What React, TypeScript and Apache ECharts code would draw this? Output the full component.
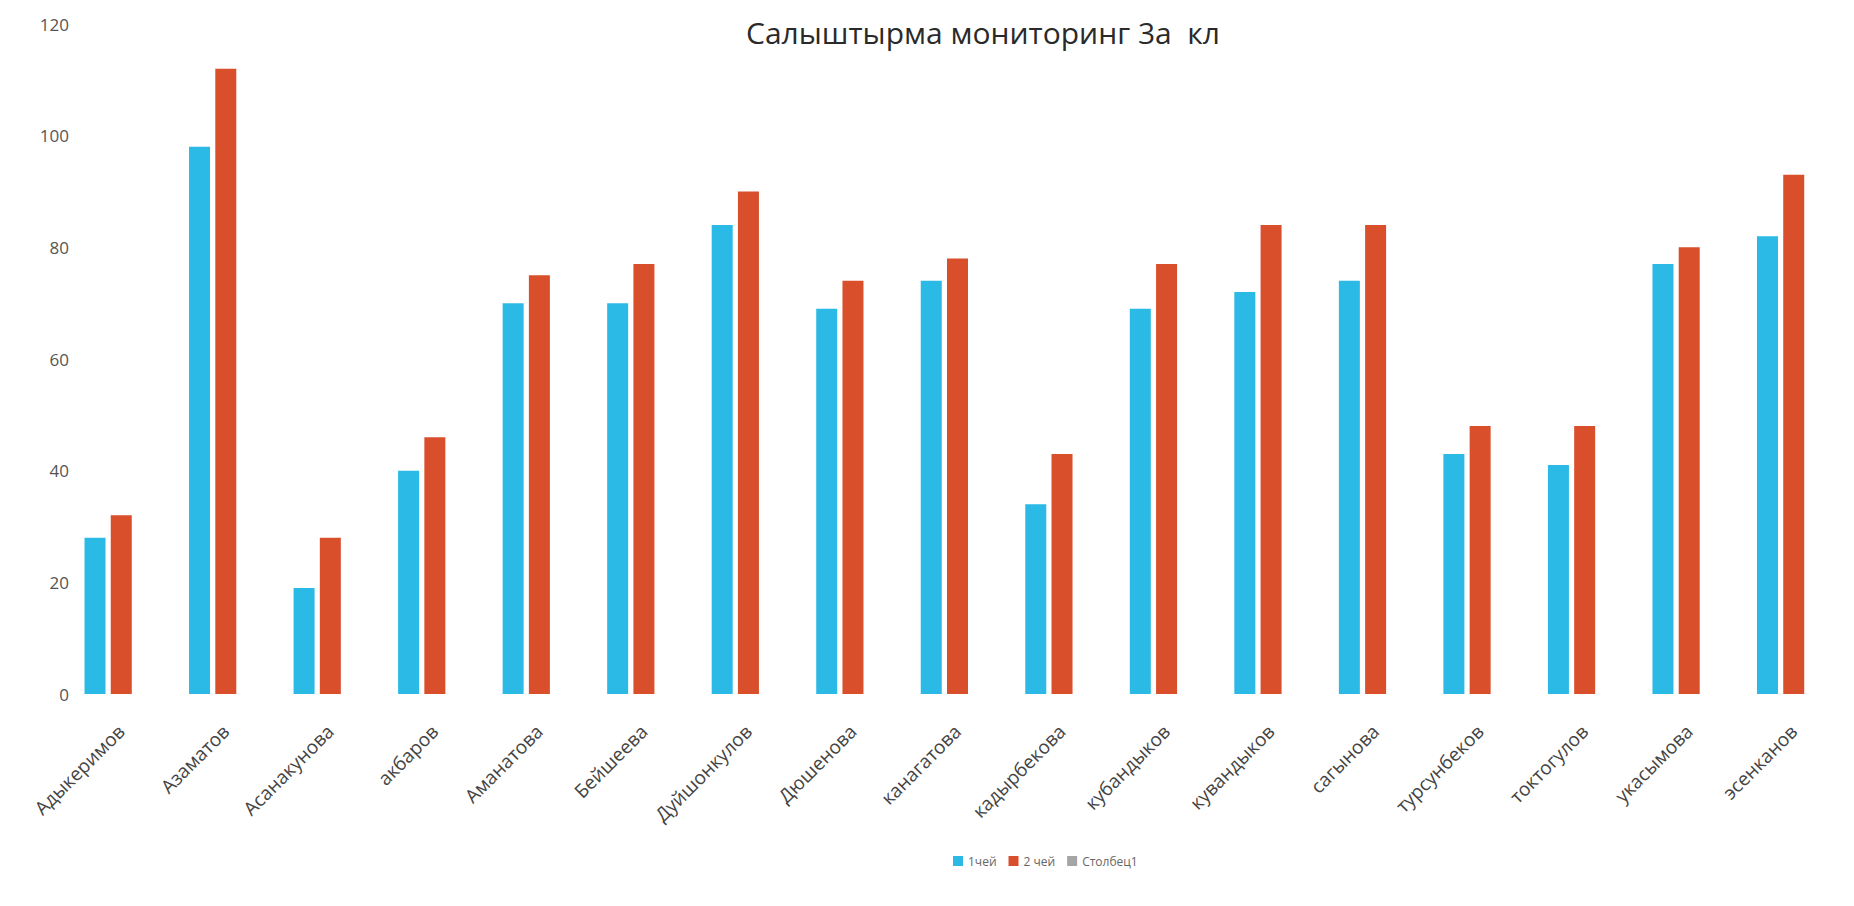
import React, { useEffect, useRef } from "react";
import * as echarts from "echarts";

const categories = [
  "Адыкеримов", "Азаматов", "Асанакунова", "акбаров", "Аманатова", "Бейшеева",
  "Дуйшонкулов", "Дюшенова", "канагатова", "кадырбекова", "кубандыков",
  "кувандыков", "сагынова", "турсунбеков", "токтогулов", "укасымова", "эсенканов",
];
const series1 = [28, 98, 19, 40, 70, 70, 84, 69, 74, 34, 69, 72, 74, 43, 41, 77, 82];
const series2 = [32, 112, 28, 46, 75, 77, 90, 74, 78, 43, 77, 84, 84, 48, 48, 80, 93];
const series3: number[] = [];
const yTicks = { min: 0, max: 120, interval: 20 };
const titleText = "Салыштырма мониторинг 3а  кл";
const seriesNames = ["1чей", "2 чей", "Столбец1"];

export default function App() {
  const ref = useRef<HTMLDivElement>(null);
  useEffect(() => {
    if (!ref.current) return;
    const chart = echarts.init(ref.current, null, { renderer: "svg" });
    chart.setOption({
      animation: false,
      backgroundColor: "#ffffff",
      textStyle: { fontFamily: "Open Sans" },
      title: {
        text: titleText,
        left: 970,
        top: 4,
        textAlign: "center",
        textStyle: { fontSize: 30, fontWeight: "normal", color: "#2a2a2a", fontFamily: "Open Sans" },
      },
      legend: {
        top: 842,
        left: 940,
        itemWidth: 10,
        itemHeight: 10,
        itemGap: 12,
        icon: "rect",
        textStyle: { fontSize: 12, color: "#666" },
        data: seriesNames,
      },
      grid: { left: 61, right: -28, top: 16, bottom: 204 },
      xAxis: {
        type: "category",
        data: categories,
        axisLine: { show: false },
        axisTick: { show: false },
        axisLabel: { rotate: 45, fontSize: 19, color: "#444", margin: 34, interval: 0 },
      },
      yAxis: {
        type: "value",
        min: yTicks.min,
        max: yTicks.max,
        interval: yTicks.interval,
        splitLine: { show: false },
        axisLine: { show: false },
        axisTick: { show: false },
        axisLabel: { fontSize: 17, color: "#555", margin: 0 },
      },
      series: [
        { name: seriesNames[0], type: "bar", data: series1, barWidth: 21, barGap: "25%", itemStyle: { color: "#2bb9e6" } },
        { name: seriesNames[1], type: "bar", data: series2, barWidth: 21, itemStyle: { color: "#d94e2b" } },
        { name: seriesNames[2], type: "bar", data: series3, barWidth: 21, itemStyle: { color: "#a5a5a5" } },
      ],
    });
    return () => chart.dispose();
  }, []);
  return <div ref={ref} style={{ width: 1838, height: 890 }} />;
}
